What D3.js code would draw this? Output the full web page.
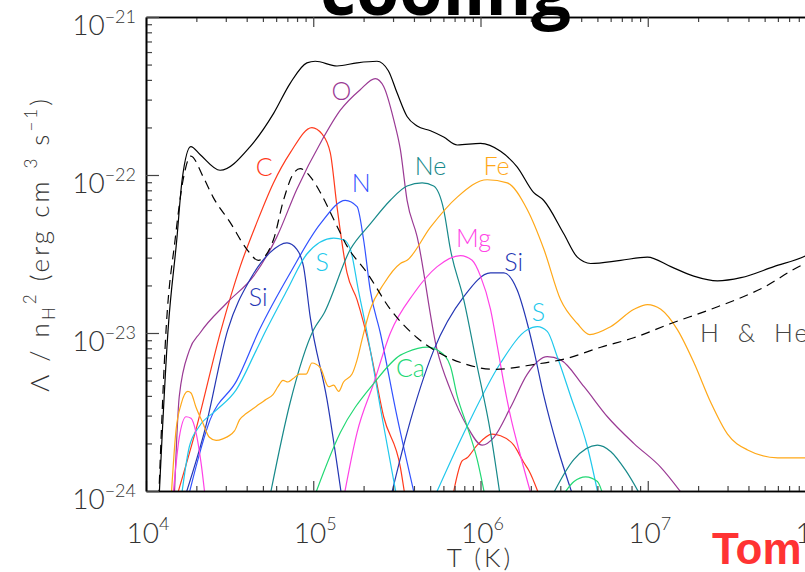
<!DOCTYPE html>
<html>
<head>
<meta charset="utf-8">
<script src="https://cdn.jsdelivr.net/npm/d3@7"></script>
<style>
body { margin: 0; background: #fff; }
text { font-family: Lato, "DejaVu Sans", sans-serif; font-weight: 300; }
</style>
</head>
<body>
<svg id="chart" width="805" height="572"></svg>
<script>
// [log10 T, log10 Lambda/nH^2], null = gap (below 1e-24)
var total = [[4.078,-24.05],[4.132,-22.98],[4.184,-22.41],[4.216,-22.03],[4.268,-21.82],[4.323,-21.87],[4.443,-21.97],[4.623,-21.82],[4.763,-21.61],[4.862,-21.42],[4.962,-21.29],[5.012,-21.28],[5.142,-21.31],[5.262,-21.29],[5.381,-21.28],[5.449,-21.34],[5.501,-21.48],[5.561,-21.63],[5.621,-21.69],[5.701,-21.72],[5.780,-21.76],[5.861,-21.81],[6.0,-21.80],[6.120,-21.85],[6.220,-21.95],[6.317,-22.11],[6.377,-22.16],[6.497,-22.37],[6.579,-22.52],[6.659,-22.56],[6.838,-22.54],[6.998,-22.52],[7.138,-22.58],[7.275,-22.64],[7.417,-22.67],[7.557,-22.65],[7.754,-22.58],[7.946,-22.51],[8.0,-22.48]];
var hhe = [[4.076,-24.05],[4.120,-22.98],[4.174,-22.41],[4.222,-22.03],[4.268,-21.88],[4.341,-22.01],[4.401,-22.14],[4.503,-22.30],[4.603,-22.47],[4.672,-22.54],[4.762,-22.41],[4.822,-22.16],[4.882,-21.99],[4.922,-21.96],[4.982,-22.01],[5.042,-22.11],[5.122,-22.28],[5.202,-22.45],[5.322,-22.62],[5.461,-22.85],[5.621,-23.03],[5.760,-23.13],[5.920,-23.20],[6.078,-23.23],[6.317,-23.20],[6.519,-23.16],[6.719,-23.09],[6.916,-23.03],[7.138,-22.94],[7.377,-22.85],[7.677,-22.72],[7.946,-22.56],[8.0,-22.54]];
var carbon = [[4.180,-24.05],[4.299,-23.61],[4.449,-22.98],[4.563,-22.58],[4.663,-22.30],[4.762,-22.05],[4.862,-21.86],[4.992,-21.70],[5.052,-21.74],[5.102,-21.86],[5.142,-22.20],[5.202,-22.62],[5.262,-22.79],[5.341,-23.11],[5.421,-23.53],[5.521,-23.85],[5.551,-24.05],null,[5.831,-24.05],[5.890,-23.81],[5.920,-23.79],[5.980,-23.71],[6.070,-23.64],[6.120,-23.65],[6.199,-23.71],[6.259,-23.82],[6.289,-23.87],[6.359,-24.05]];
var oxygen = [[4.169,-24.05],[4.199,-23.40],[4.259,-23.11],[4.323,-23.00],[4.483,-22.81],[4.643,-22.64],[4.783,-22.39],[4.902,-22.09],[5.052,-21.78],[5.162,-21.59],[5.281,-21.46],[5.371,-21.39],[5.421,-21.44],[5.481,-21.65],[5.521,-21.84],[5.561,-22.16],[5.621,-22.39],[5.741,-23.11],[5.820,-23.36],[5.920,-23.59],[6.010,-23.71],[6.080,-23.66],[6.180,-23.47],[6.280,-23.26],[6.399,-23.15],[6.479,-23.17],[6.619,-23.34],[6.759,-23.53],[6.918,-23.70],[7.078,-23.85],[7.228,-24.05]];
var nitrogen = [[4.250,-24.05],[4.383,-23.55],[4.543,-23.30],[4.678,-22.98],[4.862,-22.62],[5.042,-22.31],[5.192,-22.16],[5.262,-22.20],[5.301,-22.41],[5.341,-22.73],[5.401,-23.00],[5.501,-23.53],[5.611,-24.05]];
var silicon = [[4.229,-24.05],[4.353,-23.61],[4.489,-22.98],[4.623,-22.66],[4.743,-22.49],[4.843,-22.43],[4.902,-22.47],[4.942,-22.58],[4.982,-22.90],[5.082,-23.42],[5.172,-24.05],null,[5.461,-24.05],[5.561,-23.63],[5.720,-23.11],[5.900,-22.77],[6.060,-22.62],[6.140,-22.62],[6.220,-22.73],[6.280,-22.94],[6.319,-23.11],[6.379,-23.40],[6.459,-23.72],[6.559,-24.05]];
var sulphur = [[4.210,-24.05],[4.259,-23.72],[4.319,-23.59],[4.419,-23.49],[4.539,-23.36],[4.659,-23.11],[4.719,-22.98],[4.843,-22.73],[4.962,-22.50],[5.122,-22.40],[5.181,-22.41],[5.222,-22.47],[5.270,-22.73],[5.322,-23.00],[5.411,-23.53],[5.501,-24.05],null,[5.720,-24.05],[5.920,-23.59],[6.120,-23.19],[6.280,-22.98],[6.340,-22.96],[6.399,-22.99],[6.459,-23.15],[6.539,-23.40],[6.639,-23.72],[6.709,-24.05]];
var neon = [[4.738,-24.05],[4.862,-23.44],[5.002,-22.98],[5.062,-22.88],[5.222,-22.47],[5.341,-22.31],[5.461,-22.16],[5.561,-22.07],[5.651,-22.05],[5.720,-22.07],[5.780,-22.22],[5.820,-22.47],[5.900,-22.79],[5.980,-23.21],[6.060,-23.63],[6.120,-24.05],null,[6.419,-24.05],[6.559,-23.80],[6.699,-23.71],[6.778,-23.75],[6.868,-23.87],[6.968,-24.05]];
var iron = [[4.150,-24.05],[4.180,-23.61],[4.210,-23.45],[4.250,-23.37],[4.269,-23.38],[4.299,-23.47],[4.340,-23.57],[4.379,-23.66],[4.419,-23.68],[4.459,-23.67],[4.529,-23.62],[4.559,-23.55],[4.599,-23.51],[4.639,-23.48],[4.678,-23.45],[4.719,-23.42],[4.759,-23.39],[4.789,-23.34],[4.819,-23.30],[4.849,-23.31],[4.878,-23.29],[4.918,-23.26],[4.958,-23.26],[4.992,-23.19],[5.042,-23.22],[5.092,-23.34],[5.122,-23.33],[5.152,-23.37],[5.181,-23.31],[5.232,-23.26],[5.262,-23.17],[5.292,-23.04],[5.341,-22.85],[5.421,-22.69],[5.521,-22.56],[5.561,-22.54],[5.701,-22.33],[5.861,-22.14],[6.040,-22.03],[6.160,-22.05],[6.280,-22.22],[6.379,-22.47],[6.479,-22.79],[6.579,-22.94],[6.653,-23.01],[6.778,-22.96],[6.918,-22.85],[6.998,-22.82],[7.078,-22.85],[7.178,-22.98],[7.277,-23.19],[7.377,-23.44],[7.477,-23.64],[7.597,-23.74],[7.777,-23.79],[7.946,-23.79],[8.0,-23.78]];
var magnesium = [[4.160,-24.05],[4.199,-23.66],[4.240,-23.53],[4.269,-23.54],[4.299,-23.63],[4.329,-23.82],[4.355,-24.05],null,[5.181,-24.05],[5.262,-23.63],[5.361,-23.32],[5.461,-23.00],[5.601,-22.75],[5.741,-22.58],[5.880,-22.51],[5.950,-22.54],[6.000,-22.64],[6.060,-22.85],[6.100,-23.08],[6.140,-23.32],[6.180,-23.53],[6.240,-23.78],[6.310,-24.05]];
var calcium = [[5.002,-24.05],[5.162,-23.63],[5.361,-23.32],[5.521,-23.14],[5.561,-23.12],[5.681,-23.09],[5.760,-23.12],[5.820,-23.21],[5.861,-23.40],[5.920,-23.59],[5.980,-23.80],[6.030,-24.05],null,[6.479,-24.05],[6.559,-23.94],[6.629,-23.91],[6.699,-23.94],[6.739,-24.05]];

var seriesNames = ["Total", "H & He", "C", "O", "N", "Si", "S", "Ne", "Fe", "Mg", "Ca"];
var seriesData = [total, hhe, carbon, oxygen, nitrogen, silicon, sulphur, neon, iron, magnesium, calcium];
var seriesColors = ["#000000", "#000000", "#ff3a1c", "#9a3a94", "#3152ff", "#2436b4", "#20c8ec", "#17898a", "#ffa818", "#ff42e6", "#22d874"];

// labels: text, [log10 T, log10 Lambda]
var labelText = ["O", "C", "N", "Ne", "Fe", "Mg", "Si", "Si", "S", "S", "Ca"];
var labelPos = [[5.168,-21.47],[4.707,-21.95],[5.287,-22.05],[5.701,-21.94],[6.096,-21.94],[5.958,-22.40],[6.198,-22.55],[4.671,-22.77],[5.054,-22.55],[6.347,-22.87],[5.581,-23.22]];
var labelColors = ["#9a3a94", "#ff3a1c", "#3152ff", "#17898a", "#ffa818", "#ff42e6", "#2436b4", "#2436b4", "#20c8ec", "#20c8ec", "#22d874"];

var xMajor = [4, 5, 6, 7, 8];      // exponents
var yMajor = [-24, -23, -22, -21]; // exponents

var svg = d3.select("#chart");
var x = d3.scaleLog().domain([1e4, 1e8]).range([146, 815]);
var y = d3.scaleLog().domain([1e-24, 1e-21]).range([491, 17]);

var minorX = [], minorY = [];
xMajor.slice(0, -1).forEach(function(e) { for (var k = 2; k < 10; k++) minorX.push(k * Math.pow(10, e)); });
yMajor.slice(0, -1).forEach(function(e) { for (var k = 2; k < 10; k++) minorY.push(k * Math.pow(10, e)); });

svg.append("clipPath").attr("id", "plotclip")
  .append("rect").attr("x", 146).attr("y", 17).attr("width", 669).attr("height", 474);

var line = d3.line()
  .defined(function(d) { return d != null; })
  .x(function(d) { return x(Math.pow(10, d[0])); })
  .y(function(d) { return y(Math.pow(10, d[1])); })
  .curve(d3.curveMonotoneX);

var g = svg.append("g").attr("clip-path", "url(#plotclip)");
// elements first, then H&He and total on top
var order = [2, 3, 4, 5, 6, 7, 8, 9, 10, 1, 0];
order.forEach(function(i) {
  g.append("path")
    .attr("d", line(seriesData[i]))
    .attr("fill", "none")
    .attr("stroke", seriesColors[i])
    .attr("stroke-width", 1.2)
    .attr("stroke-dasharray", seriesNames[i] == "H & He" ? "9,6" : null);
});

// axes
function styleAxis(sel) {
  sel.select(".domain").attr("stroke", "#000").attr("stroke-width", 1.6);
  sel.selectAll(".tick line").attr("stroke", "#444").attr("stroke-width", 1.2);
}
var majX = xMajor.map(function(e) { return Math.pow(10, e); });
var majY = yMajor.map(function(e) { return Math.pow(10, e); });

svg.append("g").attr("transform", "translate(0,491)")
  .call(d3.axisBottom(x).tickValues(minorX).tickSize(-5).tickSizeOuter(0).tickFormat("")).call(styleAxis);
svg.append("g").attr("transform", "translate(0,491)")
  .call(d3.axisBottom(x).tickValues(majX).tickSize(-10).tickSizeOuter(0).tickFormat("")).call(styleAxis);
svg.append("g").attr("transform", "translate(0,17)")
  .call(d3.axisTop(x).tickValues(minorX).tickSize(-5).tickSizeOuter(0).tickFormat("")).call(styleAxis);
svg.append("g").attr("transform", "translate(0,17)")
  .call(d3.axisTop(x).tickValues(majX).tickSize(-10).tickSizeOuter(0).tickFormat("")).call(styleAxis);
svg.append("g").attr("transform", "translate(146,0)")
  .call(d3.axisLeft(y).tickValues(minorY).tickSize(-6).tickSizeOuter(0).tickFormat("")).call(styleAxis);
svg.append("g").attr("transform", "translate(146,0)")
  .call(d3.axisLeft(y).tickValues(majY).tickSize(-13).tickSizeOuter(0).tickFormat("")).call(styleAxis);

// tick labels
xMajor.forEach(function(e) {
  var t = svg.append("text").attr("x", x(Math.pow(10, e)) + 2).attr("y", 543)
    .attr("text-anchor", "middle").attr("fill", "#333").attr("font-size", 28);
  t.append("tspan").text("10");
  t.append("tspan").attr("dy", -13).attr("font-size", 18).text(e);
});
yMajor.forEach(function(e) {
  var t = svg.append("text").attr("x", 136).attr("y", y(Math.pow(10, e)) + 18)
    .attr("text-anchor", "end").attr("fill", "#333").attr("font-size", 28);
  t.append("tspan").text("10");
  t.append("tspan").attr("dy", -12).attr("font-size", 18).text("\u2212" + (-e));
});

// axis titles
svg.append("text").attr("x", 480).attr("y", 567).attr("text-anchor", "middle")
  .attr("fill", "#333").attr("font-size", 26).attr("letter-spacing", 3).text("T (K)");

var yt = svg.append("text").attr("transform", "translate(49,244) rotate(-90)")
  .attr("text-anchor", "middle").attr("fill", "#333").attr("font-size", 26).attr("letter-spacing", 3);
yt.append("tspan").text("\u039b / n");
yt.append("tspan").attr("dy", 6).attr("font-size", 17).text("H");
yt.append("tspan").attr("dy", -19).attr("font-size", 17).text("2");
yt.append("tspan").attr("dy", 13).text(" (erg cm ");
yt.append("tspan").attr("dy", -12).attr("font-size", 17).text("3");
yt.append("tspan").attr("dy", 12).text(" s");
yt.append("tspan").attr("dy", -12).attr("font-size", 17).text("\u22121");
yt.append("tspan").attr("dy", 12).text(")");

// element labels
labelText.forEach(function(s, i) {
  svg.append("text")
    .attr("x", x(Math.pow(10, labelPos[i][0])))
    .attr("y", y(Math.pow(10, labelPos[i][1])))
    .attr("dy", "0.36em").attr("text-anchor", "middle")
    .attr("fill", labelColors[i]).attr("font-size", 25).text(s);
});
svg.append("text").attr("x", 700).attr("y", y(1e-23)).attr("dy", "0.36em")
  .attr("fill", "#444").attr("font-size", 25).attr("letter-spacing", 2).attr("word-spacing", 8).text("H & He");

// title and credit
svg.append("text").attr("x", 320).attr("y", 15)
  .style("font-family", "'Open Sans', sans-serif").style("font-weight", 700)
  .attr("font-size", 70).attr("fill", "#000").text("cooling");
svg.append("text").attr("x", 712).attr("y", 564)
  .style("font-family", "'Liberation Sans Narrow', 'Liberation Sans', sans-serif").style("font-weight", 700)
  .attr("font-size", 44).attr("fill", "#ff3333").text("Tom Theuns");
</script>
</body>
</html>
